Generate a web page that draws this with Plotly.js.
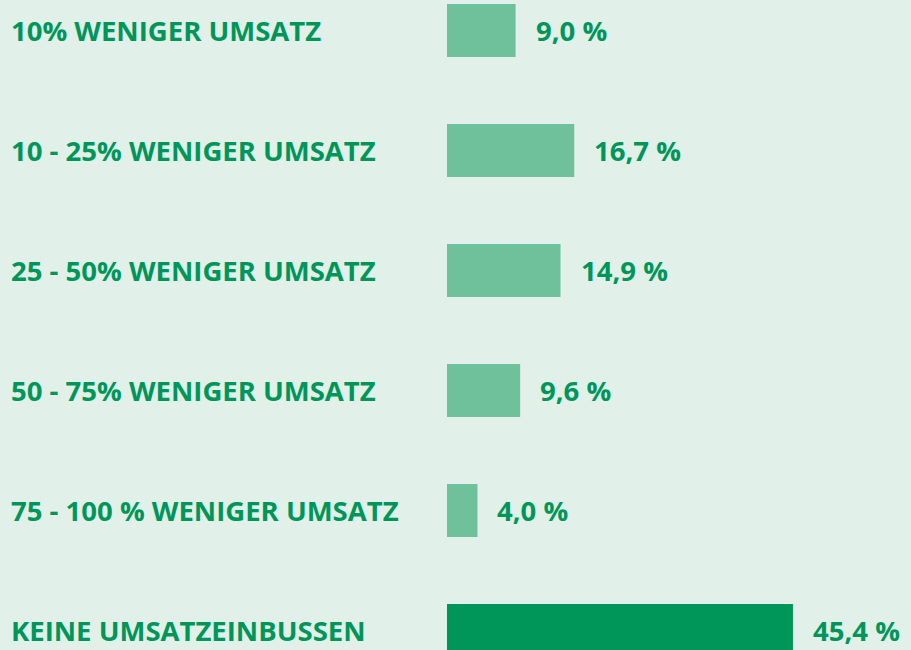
<!DOCTYPE html>
<html>
<head>
<meta charset="utf-8">
<script src="https://cdn.plot.ly/plotly-3.0.1.min.js"></script>
<style>html,body{margin:0;padding:0;background:#e1f0e9;}#chart{width:911px;height:650px;}</style>
</head>
<body>
<div id="chart"></div>
<script>
const categories = [
  "10% WENIGER UMSATZ",
  "10 - 25% WENIGER UMSATZ",
  "25 - 50% WENIGER UMSATZ",
  "50 - 75% WENIGER UMSATZ",
  "75 - 100 % WENIGER UMSATZ",
  "KEINE UMSATZEINBUSSEN"
];
const values = [9.0, 16.7, 14.9, 9.6, 4.0, 45.4];
const valueLabels = ["9,0 %", "16,7 %", "14,9 %", "9,6 %", "4,0 %", "45,4 %"];

const textColor = "#00965a";
const barColors = values.map((v, i) => i === values.length - 1 ? "#00965a" : "#6fc19c");
const fontFam = "'Open Sans', 'Noto Sans', sans-serif";

const annotations = [];
categories.forEach((c, i) => {
  annotations.push({
    xref: "paper", yref: "y", x: -438 / 464, y: c, xanchor: "left", yanchor: "middle",
    text: "<b>" + c + "</b>", showarrow: false,
    font: {family: fontFam, size: 27.5, color: textColor}
  });
  annotations.push({
    xref: "x", yref: "y", x: values[i], y: c, xanchor: "left", yanchor: "middle",
    xshift: 18,
    text: "<b>" + valueLabels[i] + "</b>", showarrow: false,
    font: {family: fontFam, size: 27.5, color: textColor}
  });
});

const trace = {
  type: "bar", orientation: "h",
  x: values, y: categories,
  marker: {color: barColors},
  width: 0.44,
  hoverinfo: "none"
};

const layout = {
  width: 911, height: 650,
  margin: {l: 447, r: 0, t: 0, b: 0, pad: 0},
  paper_bgcolor: "#e1f0e9", plot_bgcolor: "#e1f0e9",
  showlegend: false,
  xaxis: {range: [0, 464 / 7.62], visible: false, fixedrange: true},
  yaxis: {type: "category", range: [5.1625, -0.254], visible: false, fixedrange: true},
  annotations: annotations
};

Plotly.newPlot("chart", [trace], layout, {displayModeBar: false, staticPlot: true});
</script>
</body>
</html>
